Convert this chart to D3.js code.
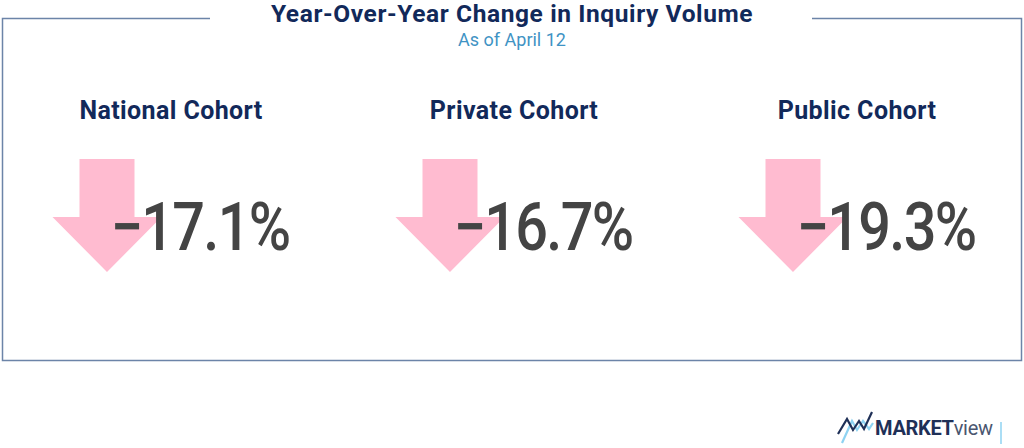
<!DOCTYPE html>
<html>
<head>
<meta charset="utf-8">
<script src="https://cdn.jsdelivr.net/npm/d3@7"></script>
<style>
  html, body { margin:0; padding:0; background:#fff; }
  svg { display:block; }
</style>
</head>
<body>
<svg id="chart" width="1024" height="448"></svg>
<script>
// Year-over-year inquiry volume, three cohort tiles
const cohorts = ['National Cohort', 'Private Cohort', 'Public Cohort'];
const yoyChange = [-17.1, -16.7, -19.3];
const title = 'Year-Over-Year Change in Inquiry Volume';
const subtitle = 'As of April 12';

const CONFIG = {
  font        : 'Roboto, "Noto Sans", sans-serif',
  navy        : '#12295a',
  subBlue     : '#3f93c4',
  frame       : '#6c84a8',
  valueColour : '#444444',
  arrowColour : '#ffbbd0',
  arrowDx     : -64,     // arrow centre relative to tile centre
  valueDx     : 29,      // value centre relative to tile centre
  valueSqueeze: 0.86     // roboto is wider than the original face
};

const svg = d3.select('#chart');

// ---------- frame with gap for the title ----------
svg.append('path')
  .attr('fill','none')
  .attr('stroke', CONFIG.frame).attr('stroke-width', 1.5)
  .attr('d', 'M210,18.5 H2.5 V360.5 H1021.5 V18.5 H812');

// ---------- title ----------
svg.append('text')
  .attr('x', 512).attr('y', 22)
  .attr('text-anchor','middle')
  .attr('font-family', CONFIG.font)
  .attr('font-weight', 700)
  .attr('font-size', 24.5)
  .attr('letter-spacing', 0.6)
  .attr('fill', CONFIG.navy)
  .text(title);

svg.append('text')
  .attr('x', 512).attr('y', 46)
  .attr('text-anchor','middle')
  .attr('font-family', CONFIG.font)
  .attr('font-size', 18)
  .attr('fill', CONFIG.subBlue)
  .text(subtitle);

// ---------- tiles ----------
const x = d3.scalePoint().domain(cohorts).range([171, 857]);

const rows = cohorts.map((c,i)=>({ cohort:c, value:yoyChange[i] }));

const tile = svg.selectAll('g.tile')
  .data(rows)
  .enter()
  .append('g')
    .attr('class','tile')
    .attr('transform', d=>`translate(${x(d.cohort)},0)`);

/* down arrow (behind the number) */
const arrow = () => {
  const cx = CONFIG.arrowDx;
  const top = 159, neck = 217, tip = 272, shaft = 27.5, head = 54.5;
  return `M${cx-shaft},${top} H${cx+shaft} V${neck} H${cx+head} L${cx},${tip} L${cx-head},${neck} H${cx-shaft} Z`;
};
tile.append('path')
  .attr('d', d => d.value < 0 ? arrow() : null)
  .attr('fill', CONFIG.arrowColour);

/* cohort label */
tile.append('text')
  .attr('x', 0).attr('y', 119)
  .attr('text-anchor','middle')
  .attr('font-family', CONFIG.font)
  .attr('font-weight', 700)
  .attr('font-size', 25)
  .attr('letter-spacing', 0.4)
  .attr('fill', CONFIG.navy)
  .text(d=>d.cohort);

/* value */
const fmt = d3.format('.1f');
tile.append('g')
  .attr('transform', `translate(${CONFIG.valueDx},0) scale(${CONFIG.valueSqueeze},1)`)
  .append('text')
    .attr('x', 0).attr('y', 250)
    .attr('text-anchor','middle')
    .attr('font-family', CONFIG.font)
    .attr('font-weight', 500)
    .attr('font-size', 67)
    .attr('letter-spacing', -2)
    .attr('fill', CONFIG.valueColour)
    .text(d => fmt(d.value).replace('-', '\u2013') + '%');

// ---------- MARKETview logo ----------
const logo = svg.append('g').attr('fill','none').attr('stroke-width', 2.2);
logo.append('path')
  .attr('stroke', '#8fd3f2')
  .attr('d', 'M842,443 L852,421 L857,430 L863,421 L869,429 L873,423');
logo.append('path')
  .attr('stroke', '#1f3057')
  .attr('d', 'M838,434 L847,419 L853,430 L859,421 L864,429 L872,412');

svg.append('text')
  .attr('x', 875).attr('y', 435)
  .attr('font-family', CONFIG.font)
  .attr('font-size', 20)
  .attr('letter-spacing', -0.3)
  .call(t => {
    t.append('tspan').attr('font-weight', 700).attr('fill', '#1f3057').text('MARKET');
    t.append('tspan').attr('font-weight', 400).attr('fill', '#4a5670').text('view');
  });

svg.append('line')
  .attr('x1', 1001).attr('x2', 1001).attr('y1', 422).attr('y2', 444)
  .attr('stroke', '#8fd3f2').attr('stroke-width', 1.5);
</script>
</body>
</html>
